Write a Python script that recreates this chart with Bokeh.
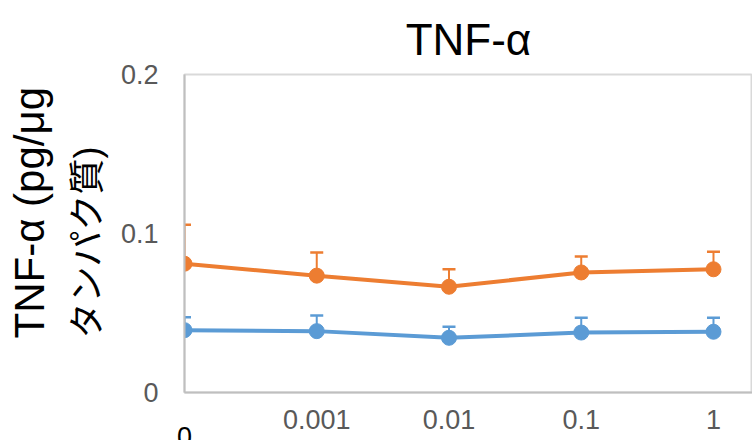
from bokeh.plotting import figure
from bokeh.models import Range1d, FixedTicker, LinearAxis, Title
from bokeh.embed import file_html
from bokeh.resources import INLINE

# data
categories = ["0", "0.001", "0.01", "0.1", "1"]
orange_vals = [0.081, 0.0735, 0.0665, 0.0755, 0.0775]
orange_err = [0.0245, 0.0145, 0.011, 0.010, 0.011]
blue_vals = [0.0392, 0.0386, 0.0344, 0.0377, 0.0382]
blue_err = [0.0081, 0.0099, 0.0069, 0.0093, 0.0088]
y_ticks = [0, 0.1, 0.2]
y_tick_labels = ["0", "0.1", "0.2"]
title_text = "TNF-α"
y_title_lines = ["TNF-α (pg/μg", "タンパク質)"]

FONT = "'Liberation Sans', Arial, 'Noto Sans CJK JP', sans-serif"
ORANGE = "#ED7D31"
BLUE = "#5B9BD5"

xs = list(range(len(categories)))

p = figure(frame_width=568, frame_height=318, output_backend="svg", toolbar_location=None,
           x_range=Range1d(0, 4.295), y_range=Range1d(0, 0.2),
           min_border_left=184, min_border_right=0, min_border_top=74, min_border_bottom=48,
           x_axis_type=None, y_axis_type=None)
p.background_fill_color = "white"
p.border_fill_color = "white"
p.outline_line_color = "#d9d9d9"
p.outline_line_width = 2

p.title.text = title_text
p.title.align = "center"
p.title.offset = 18
p.title.standoff = 21
p.title.text_font = FONT
p.title.text_font_size = "44px"
p.title.text_font_style = "normal"
p.title.text_color = "black"

yax = LinearAxis(ticker=FixedTicker(ticks=y_ticks),
                 major_label_overrides={t: l for t, l in zip(y_ticks, y_tick_labels)})
yax.axis_line_color = "#bfbfbf"
yax.axis_line_width = 2
yax.major_tick_line_color = None
yax.minor_tick_line_color = None
yax.major_label_text_font = FONT
yax.major_label_text_font_size = "27px"
yax.major_label_text_color = "#595959"
yax.major_label_standoff = 20
p.add_layout(yax, "left")

# y title: two lines, nearest first
for line, size, gap in [(y_title_lines[1], "36px", 20), (y_title_lines[0], "42px", 4)]:
    t = Title(text=line, align="left", offset=54, standoff=gap,
              text_font=FONT, text_font_size=size, text_font_style="normal",
              text_color="black")
    p.add_layout(t, "left")

# black "0" label of the first category (nearest panel below the frame)
xax0 = LinearAxis(ticker=FixedTicker(ticks=xs[:1]),
                  major_label_overrides={xs[0]: categories[0]})
xax0.axis_line_color = "#bfbfbf"
xax0.axis_line_width = 2
xax0.major_tick_line_color = None
xax0.minor_tick_line_color = None
xax0.major_label_text_font = FONT
xax0.major_label_text_font_size = "27px"
xax0.major_label_text_color = "black"
xax0.major_label_standoff = 28
p.add_layout(xax0, "below")

# gray category labels, pulled back up next to the frame
xax = LinearAxis(ticker=FixedTicker(ticks=xs[1:]),
                 major_label_overrides={i: c for i, c in zip(xs[1:], categories[1:])})
xax.axis_line_color = None
xax.major_tick_line_color = None
xax.minor_tick_line_color = None
xax.major_label_text_font = FONT
xax.major_label_text_font_size = "27px"
xax.major_label_text_color = "#595959"
xax.major_label_standoff = -45
p.add_layout(xax, "below")

p.ygrid.ticker = FixedTicker(ticks=y_ticks)
p.xgrid.ticker = FixedTicker(ticks=xs)
p.ygrid.grid_line_color = "#d9d9d9"
p.xgrid.grid_line_color = "#d9d9d9"
p.ygrid.grid_line_width = 2
p.xgrid.grid_line_width = 2

for vals, errs, col in [(blue_vals, blue_err, BLUE), (orange_vals, orange_err, ORANGE)]:
    tops = [v + e for v, e in zip(vals, errs)]
    p.segment(x0=xs, y0=vals, x1=xs, y1=tops, line_color=col, line_width=2)
    p.scatter(x=xs, y=tops, marker="dash", size=13, line_color=col, line_width=2.5, fill_color=col)
    p.line(x=xs, y=vals, line_color=col, line_width=4)
    p.scatter(x=xs, y=vals, marker="circle", size=15, fill_color=col, line_color=col)

open("out.html", "w").write(file_html(p, INLINE))
